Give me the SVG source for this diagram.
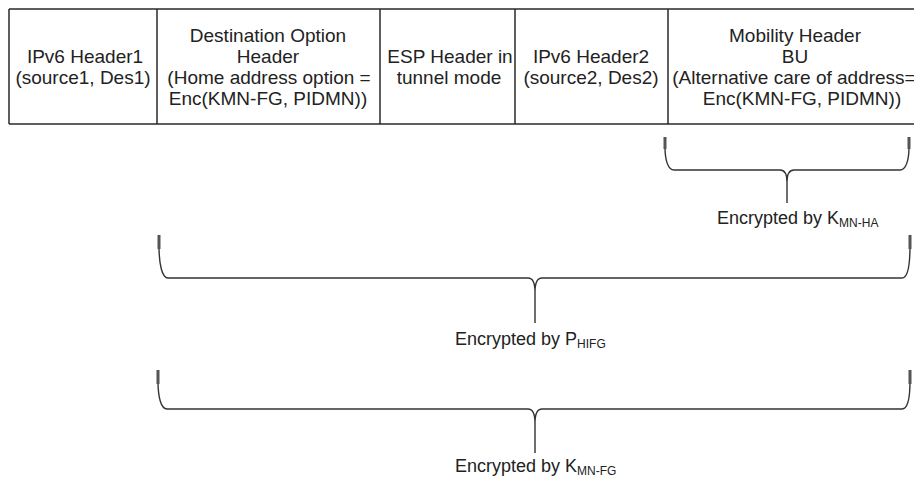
<svg xmlns="http://www.w3.org/2000/svg" width="914" height="477" viewBox="0 0 914 477">
  <style>
    .cell { fill: none; stroke: #2a2a2a; stroke-width: 1.5; }
    .hdr { font-family: "Liberation Sans", Arial, sans-serif; font-size: 19px; fill: #222; text-anchor: middle; }
    .lbl { font-family: "Liberation Sans", Arial, sans-serif; font-size: 18px; fill: #222; }
    .sub { font-size: 12px; }
    .brace { fill: none; stroke: #333; stroke-width: 1.4; stroke-linejoin: round; }
    .tip { fill: none; stroke: #555; stroke-width: 3; stroke-linecap: butt; }
  </style>

  <rect width="914" height="477" fill="#fff"/>

  <!-- packet header fields -->
  <g id="ipv6-header1">
    <path class="cell" d="M9,9 H157 M9,124 H157 M9,9 V124"/>
    <text class="hdr" x="85" y="63">IPv6 Header1</text>
    <text class="hdr" x="83" y="84">(source1, Des1)</text>
  </g>
  <g id="destination-option-header">
    <path class="cell" d="M157,9 H380 M157,124 H380 M157,9 V124"/>
    <text class="hdr" x="268" y="42">Destination Option</text>
    <text class="hdr" x="268" y="63">Header</text>
    <text class="hdr" x="269" y="84">(Home address option =</text>
    <text class="hdr" x="268" y="105">Enc(KMN-FG, PIDMN))</text>
  </g>
  <g id="esp-header">
    <path class="cell" d="M380,9 H515 M380,124 H515 M380,9 V124"/>
    <text class="hdr" x="450" y="63">ESP Header in</text>
    <text class="hdr" x="449" y="84">tunnel mode</text>
  </g>
  <g id="ipv6-header2">
    <path class="cell" d="M515,9 H668 M515,124 H668 M515,9 V124"/>
    <text class="hdr" x="591" y="63">IPv6 Header2</text>
    <text class="hdr" x="591" y="84">(source2, Des2)</text>
  </g>
  <g id="mobility-header">
    <path class="cell" d="M668,9 H914 M668,124 H914 M668,9 V124"/>
    <text class="hdr" x="795" y="42">Mobility Header</text>
    <text class="hdr" x="795" y="63">BU</text>
    <text class="hdr" x="794" y="84">(Alternative care of address=</text>
    <text class="hdr" x="802" y="105">Enc(KMN-FG, PIDMN))</text>
  </g>

  <!-- encryption scope braces -->
  <g id="connectors">
    <g id="brace-mn-ha">
      <path class="brace" d="M665,137 V147 C665,160 668,170 674,170 H780 C784,170 787,174 787,182 V203 M787,182 C787,174 790,170 794,170 H900 C906,170 909,160 909,147 V137"/>
      <path class="tip" d="M665,137 V149 M909,137 V149"/>
    </g>
    <g id="brace-hifg">
      <path class="brace" d="M159,235 V246 C159,264 162,278 168,278 H528 C532,278 535,282 535,292 V323 M535,292 C535,282 538,278 542,278 H902 C908,278 910,264 910,246 V235"/>
      <path class="tip" d="M159,235 V249 M910,235 V249"/>
    </g>
    <g id="brace-mn-fg">
      <path class="brace" d="M158,370 V381 C158,397 161,409 167,409 H528 C532,409 535,413 535,423 V453 M535,423 C535,413 538,409 542,409 H902 C908,409 910,397 910,381 V370"/>
      <path class="tip" d="M158,370 V384 M910,370 V384"/>
    </g>
  </g>

  <!-- brace captions -->
  <g id="label-mn-ha">
    <text class="lbl" x="717" y="224">Encrypted by K<tspan class="sub" dy="3">MN-HA</tspan></text>
  </g>
  <g id="label-hifg">
    <text class="lbl" x="455" y="345">Encrypted by P<tspan class="sub" dy="3">HIFG</tspan></text>
  </g>
  <g id="label-mn-fg">
    <text class="lbl" x="455" y="472">Encrypted by K<tspan class="sub" dy="3">MN-FG</tspan></text>
  </g>
</svg>
